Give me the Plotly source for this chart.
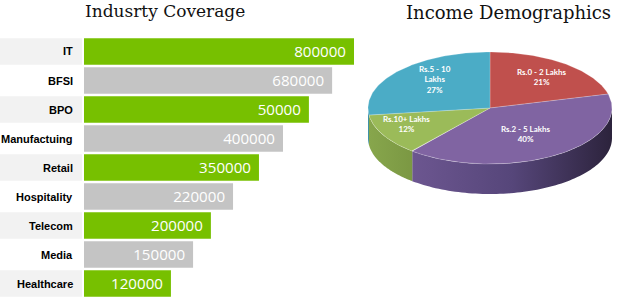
import numpy as np
import plotly.graph_objects as go

# ---------------- data ----------------
industries = ["IT", "BFSI", "BPO", "Manufactuing", "Retail", "Hospitality",
              "Telecom", "Media", "Healthcare"]
coverage_labels = [800000, 680000, 50000, 400000, 350000, 220000, 200000, 150000, 120000]
# bar lengths as drawn in the picture (percent of the longest bar)
bar_lengths = [100, 91.9, 83.3, 73.7, 64.8, 55.2, 47.0, 40.4, 32.2]

income_groups = ["Rs.0 - 2 Lakhs", "Rs.2 - 5 Lakhs", "Rs.10+ Lakhs", "Rs.5 - 10 Lakhs"]
income_labels = ["Rs.0 - 2 Lakhs<br>21%", "Rs.2 - 5 Lakhs<br>40%",
                 "Rs.10+ Lakhs<br>12%", "Rs.5 - 10<br>Lakhs<br>27%"]
income_share = [21, 40, 12, 27]

# ---------------- styles ----------------
W, H = 625, 298
GREEN, GREY = "#77c000", "#c4c4c4"
bar_colors = [GREEN if i % 2 == 0 else GREY for i in range(len(industries))]
box_colors = ["#f2f2f2" if i % 2 == 0 else "#ffffff" for i in range(len(industries))]
top_colors = ["#c0504d", "#8064a2", "#9bbb59", "#4bacc6"]
side_scales = [
    [[0, "#8f3a38"], [1, "#6e2a28"]],
    [[0, "#6c5690"], [0.5, "#56467a"], [1, "#2c233c"]],
    [[0, "#87a64c"], [1, "#7b9843"]],
    [[0, "#3a94ab"], [1, "#35879c"]],
]
# label placement (radius fraction, vertical nudge in px)
label_r = [0.7, 0.55, 0.78, 0.6]
label_dy = [0, 0, -5, -6]

fig = go.Figure()

# label boxes
fig.add_trace(go.Bar(y=industries, x=[1] * len(industries), orientation="h",
                     marker=dict(color=box_colors, line=dict(width=0)),
                     xaxis="x2", yaxis="y", hoverinfo="skip", showlegend=False))
# coverage bars
fig.add_trace(go.Bar(y=industries, x=bar_lengths, orientation="h",
                     marker=dict(color=bar_colors, line=dict(width=0)),
                     text=[f"{v}\u2009\u2009" for v in coverage_labels],
                     textposition="inside", insidetextanchor="end",
                     textfont=dict(family="Open Sans", size=19, color="#ffffff"),
                     xaxis="x", yaxis="y", showlegend=False))

annotations = []
for name in industries:
    annotations.append(dict(x=75 / W, xref="paper", y=name, yref="y", text=f"<b>{name}</b>",
                            showarrow=False, xanchor="right",
                            font=dict(family="Liberation Sans", size=11, color="#000000")))

# ---------------- 3D pie ----------------
cx, cy, a, b, depth = 490, 108, 122, 56, 30
bounds = np.concatenate([[0], np.cumsum(income_share)]) / 100 * 360


def ell(theta_deg, dy=0.0):
    t = np.radians(theta_deg)
    return cx + a * np.sin(t), cy - b * np.cos(t) + dy


# sides (front half only, 90..270 deg)
for i in range(len(income_share)):
    lo, hi = max(bounds[i], 90), min(bounds[i + 1], 270)
    if hi <= lo:
        continue
    th = np.linspace(lo, hi, 80)
    xt, yt = ell(th)
    xb, yb = ell(th[::-1], depth)
    fig.add_trace(go.Scatter(x=np.concatenate([xt, xb, xt[:1]]),
                             y=np.concatenate([yt, yb, yt[:1]]),
                             mode="none", fill="toself",
                             fillgradient=dict(type="horizontal", colorscale=side_scales[i]),
                             xaxis="x3", yaxis="y3", hoverinfo="skip", showlegend=False))
# top faces
for i in range(len(income_share)):
    th = np.linspace(bounds[i], bounds[i + 1], 120)
    xt, yt = ell(th)
    fig.add_trace(go.Scatter(x=np.concatenate([[cx], xt, [cx]]),
                             y=np.concatenate([[cy], yt, [cy]]),
                             mode="lines", fill="toself", fillcolor=top_colors[i],
                             line=dict(color="rgba(255,255,255,0.35)", width=0.6),
                             xaxis="x3", yaxis="y3", name=income_groups[i],
                             hoverinfo="name", showlegend=False))
# slice labels
for i in range(len(income_share)):
    mid = (bounds[i] + bounds[i + 1]) / 2
    t = np.radians(mid)
    lx = cx + label_r[i] * a * np.sin(t)
    ly = cy - label_r[i] * b * np.cos(t) + label_dy[i]
    annotations.append(dict(x=lx, y=ly, xref="x3", yref="y3", text=f"<b>{income_labels[i]}</b>",
                            showarrow=False, align="center", xanchor="center", yanchor="middle",
                            font=dict(family="Lato", size=8, color="#ffffff")))

# titles
annotations.append(dict(x=165 / W, y=1 - 11 / H, xref="paper", yref="paper",
                        xanchor="center", yanchor="middle",
                        text="Indusrty Coverage", showarrow=False,
                        font=dict(family="DejaVu Serif", size=17, color="#111111")))
annotations.append(dict(x=508 / W, y=1 - 13 / H, xref="paper", yref="paper",
                        xanchor="center", yanchor="middle",
                        text="Income Demographics", showarrow=False,
                        font=dict(family="DejaVu Serif", size=18, color="#111111")))

fig.update_layout(
    width=W, height=H, margin=dict(l=0, r=0, t=0, b=0),
    paper_bgcolor="#ffffff", plot_bgcolor="rgba(0,0,0,0)",
    bargap=0.08, annotations=annotations,
    uniformtext=dict(minsize=19, mode="show"),
    xaxis=dict(domain=[84 / W, 354 / W], range=[0, 100], visible=False, fixedrange=True),
    xaxis2=dict(domain=[0, 82 / W], range=[0, 1], visible=False, anchor="y"),
    yaxis=dict(domain=[0, 261 / H], categoryorder="array", categoryarray=industries,
               autorange="reversed", visible=False),
    xaxis3=dict(domain=[360 / W, 1], range=[360, 625], visible=False, anchor="y3"),
    yaxis3=dict(domain=[0, 1], range=[298, 0], visible=False, anchor="x3"),
)

fig.write_html("out.html")
